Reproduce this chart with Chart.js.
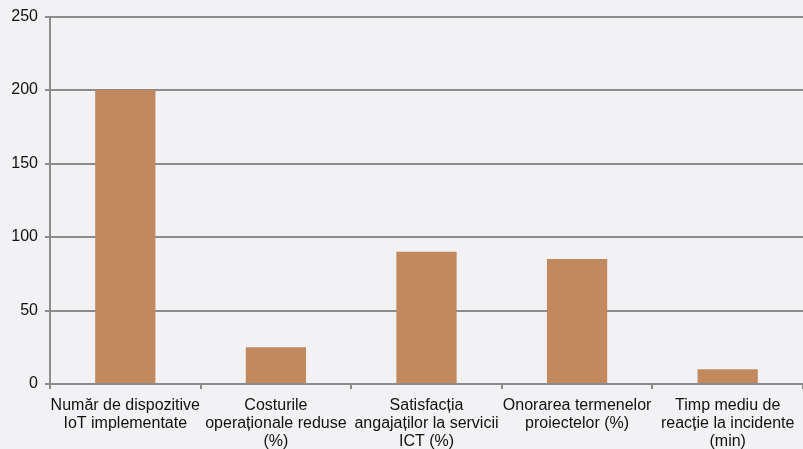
<!DOCTYPE html>
<html>
<head>
<meta charset="utf-8">
<script src="https://cdn.jsdelivr.net/npm/chart.js@4/dist/chart.umd.min.js"></script>
<style>
  html, body { margin: 0; padding: 0; background: #f2f2f4; overflow: hidden; }
  #wrap { width: 803px; height: 449px; position: relative; }
</style>
</head>
<body>
<div id="wrap"><canvas id="c" width="803" height="449"></canvas></div>
<script>
const categories = [
  ["Număr de dispozitive", "IoT implementate"],
  ["Costurile", "operaționale reduse", "(%)"],
  ["Satisfacția", "angajaților la servicii", "ICT (%)"],
  ["Onorarea termenelor", "proiectelor (%)"],
  ["Timp mediu de", "reacție la incidente", "(min)"]
];
const values = [200, 25, 90, 85, 10];
const yTicks = { min: 0, max: 250, step: 50 };

Chart.defaults.font.family = "'Liberation Sans', Arial, sans-serif";
Chart.defaults.color = '#111111';

const gridColor = '#8c8c8c';

new Chart(document.getElementById('c'), {
  type: 'bar',
  data: {
    labels: categories,
    datasets: [{
      data: values,
      backgroundColor: '#c2895f',
      borderWidth: 0,
      categoryPercentage: 0.8,
      barPercentage: 0.5
    }]
  },
  options: {
    responsive: false,
    devicePixelRatio: 1,
    animation: false,
    layout: { padding: { top: 15, right: 0, left: 0, bottom: 0 } },
    plugins: { legend: { display: false }, tooltip: { enabled: false } },
    scales: {
      x: {
        offset: true,
        grid: {
          offset: true,
          drawOnChartArea: false,
          drawTicks: true,
          tickLength: 5,
          color: gridColor,
          lineWidth: 2
        },
        border: { color: gridColor, width: 2 },
        ticks: {
          font: { size: 16, lineHeight: 1.15 },
          color: '#111111',
          padding: 7,
          maxRotation: 0,
          autoSkip: false
        },
        afterFit: (s) => { s.height = 65; }
      },
      y: {
        min: yTicks.min,
        max: yTicks.max,
        grid: {
          color: gridColor,
          lineWidth: 2,
          drawTicks: true,
          tickLength: 5
        },
        border: { color: gridColor, width: 2 },
        ticks: {
          stepSize: yTicks.step,
          font: { size: 16 },
          color: '#111111',
          padding: 7
        },
        afterFit: (s) => { s.width = 50; }
      }
    }
  }
});
</script>
</body>
</html>
